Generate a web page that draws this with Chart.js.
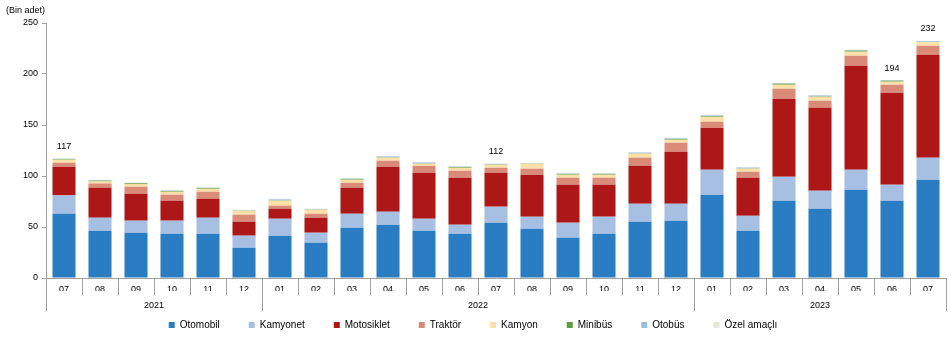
<!DOCTYPE html>
<html>
<head>
<meta charset="utf-8">
<script src="https://cdn.jsdelivr.net/npm/chart.js@4/dist/chart.umd.min.js"></script>
<style>
  html, body { margin: 0; padding: 0; background: #fff; }
  #wrap { width: 951px; height: 340px; }
</style>
</head>
<body>
<div id="wrap"><canvas id="myChart" width="951" height="340"></canvas></div>
<script>
var months = ["07","08","09","10","11","12","01","02","03","04","05","06","07","08","09","10","11","12","01","02","03","04","05","06","07"];
var years = ["2021","2021","2021","2021","2021","2021","2022","2022","2022","2022","2022","2022","2022","2022","2022","2022","2022","2022","2023","2023","2023","2023","2023","2023","2023"];

var otomobil   = [63.0,46.4,44.4,43.4,43.4,29.7,41.5,34.6,49.3,52.3,46.4,43.4,54.2,48.3,39.5,43.4,55.2,56.2,81.7,46.4,75.8,67.9,86.6,75.8,96.4];
var kamyonet   = [18.0,12.7,11.8,12.8,15.7,11.8,16.6,9.8,13.7,12.7,11.7,8.9,15.7,11.8,14.7,16.7,17.6,16.6,24.5,14.6,23.5,17.7,19.6,15.7,21.6];
var motosiklet = [28.0,29.4,26.4,19.6,18.6,13.7,9.8,14.7,25.5,44.1,45.1,46.0,33.3,41.2,37.3,31.4,37.3,51.0,41.2,37.3,76.5,81.3,101.9,90.2,100.9];
var traktor    = [4.0,4.2,6.9,5.9,6.9,6.8,3.0,3.9,4.9,5.9,6.8,6.9,4.9,5.9,6.8,6.8,7.9,8.8,5.8,5.9,9.8,6.9,9.8,7.8,8.8];
var kamyon     = [3.0,2.0,2.7,2.9,2.9,4.0,4.9,4.0,3.0,3.0,2.0,2.9,2.9,4.8,3.0,3.0,3.9,3.0,4.9,3.0,3.9,3.9,4.0,3.0,3.5];
var minibus    = [0.6,0.8,0.7,0.8,0.8,0.3,0.3,0.3,0.8,0.3,0.3,0.8,0.3,0.2,0.8,0.8,0.3,0.9,0.8,0.3,1.0,0.4,1.0,1.0,0.3];
var otobus     = [0.3,0.3,0.3,0.3,0.3,0.2,1.0,0.4,0.3,0.9,0.9,0.3,0.6,0.2,0.3,0.3,0.8,0.4,0.6,0.8,0.4,0.9,0.5,0.3,0.6];
var ozelAmacli = [0.3,0.3,0.3,0.3,0.3,0.3,0.3,0.3,0.3,0.3,0.3,0.3,0.3,0.3,0.3,0.3,0.3,0.3,0.3,0.3,0.3,0.3,0.4,0.3,0.3];

// bars that get a total label above them
var labelledBars = [0, 12, 23, 24];

var seriesNames = ["Otomobil","Kamyonet","Motosiklet","Traktör","Kamyon","Minibüs","Otobüs","Özel amaçlı"];
var seriesData = [otomobil, kamyonet, motosiklet, traktor, kamyon, minibus, otobus, ozelAmacli];
var seriesColors = ["#2A7DC3","#A6BFE3","#AE1717","#D98B77","#FCE0A8","#5B9C41","#9ABEE2","#E4E7DA"];

var FONT = "'Liberation Sans', Arial, sans-serif";
var AXIS = "#A0A0A0";

var datasets = [];
for (var i = 0; i < seriesNames.length; i++) {
    datasets.push({
        label: seriesNames[i],
        data: seriesData[i],
        backgroundColor: seriesColors[i],
        borderWidth: 0,
        barPercentage: 0.64,
        categoryPercentage: 1.0
    });
}

const decorations = {
    id: 'decorations',
    afterDraw: (chart) => {
        const {ctx, chartArea} = chart;
        const x = chart.scales.x;
        const y = chart.scales.y;
        const bottom = chartArea.bottom;
        const step = x.getPixelForValue(1) - x.getPixelForValue(0);
        ctx.save();
        // y axis title
        ctx.fillStyle = '#000';
        ctx.font = "9px " + FONT;
        ctx.textAlign = 'left';
        ctx.textBaseline = 'middle';
        ctx.fillText("(Bin adet)", 6, 11);
        // year groups
        ctx.strokeStyle = AXIS;
        ctx.lineWidth = 1;
        var start = 0;
        for (var i = 1; i <= years.length; i++) {
            if (i === years.length || years[i] !== years[start]) {
                var x0 = x.getPixelForValue(start) - step / 2;
                var x1 = x.getPixelForValue(i - 1) + step / 2;
                ctx.beginPath();
                ctx.moveTo(Math.round(x0) + 0.5, bottom);
                ctx.lineTo(Math.round(x0) + 0.5, bottom + 33);
                ctx.moveTo(Math.round(x1) + 0.5, bottom);
                ctx.lineTo(Math.round(x1) + 0.5, bottom + 33);
                ctx.stroke();
                ctx.textAlign = 'center';
                ctx.fillText(years[start], (x0 + x1) / 2, bottom + 28);
                start = i;
            }
        }
        // totals above chosen bars
        ctx.font = "9px " + FONT;
        ctx.textAlign = 'center';
        labelledBars.forEach(function (idx) {
            var sum = 0;
            seriesData.forEach(function (s) { sum += s[idx]; });
            ctx.fillText(String(Math.round(sum)), x.getPixelForValue(idx), y.getPixelForValue(sum) - 12);
        });
        ctx.restore();
    }
};

new Chart("myChart", {
    type: "bar",
    plugins: [decorations],
    data: {
        labels: months,
        datasets: datasets
    },
    options: {
        responsive: false,
        animation: false,
        layout: { padding: { left: 0, right: 5, top: 23, bottom: 0 } },
        plugins: {
            tooltip: { enabled: false },
            legend: {
                position: 'bottom',
                labels: {
                    boxWidth: 6,
                    boxHeight: 6,
                    padding: 29,
                    color: '#000',
                    font: { family: FONT, size: 10 }
                }
            }
        },
        scales: {
            x: {
                stacked: true,
                grid: {
                    offset: true,
                    drawOnChartArea: false,
                    drawTicks: true,
                    tickLength: 17,
                    color: AXIS
                },
                border: { color: AXIS },
                ticks: {
                    color: '#000',
                    padding: -11,
                    maxRotation: 0,
                    autoSkip: false,
                    font: { family: FONT, size: 9 }
                },
                afterFit: function (scale) { scale.height = 13; }
            },
            y: {
                stacked: true,
                min: 0,
                max: 250,
                grid: {
                    drawOnChartArea: false,
                    drawTicks: true,
                    tickLength: 4,
                    color: AXIS
                },
                border: { color: AXIS },
                ticks: {
                    stepSize: 50,
                    color: '#000',
                    padding: 4,
                    font: { family: FONT, size: 9 }
                },
                afterFit: function (scale) { scale.width = 46; }
            }
        }
    }
});
</script>
</body>
</html>
